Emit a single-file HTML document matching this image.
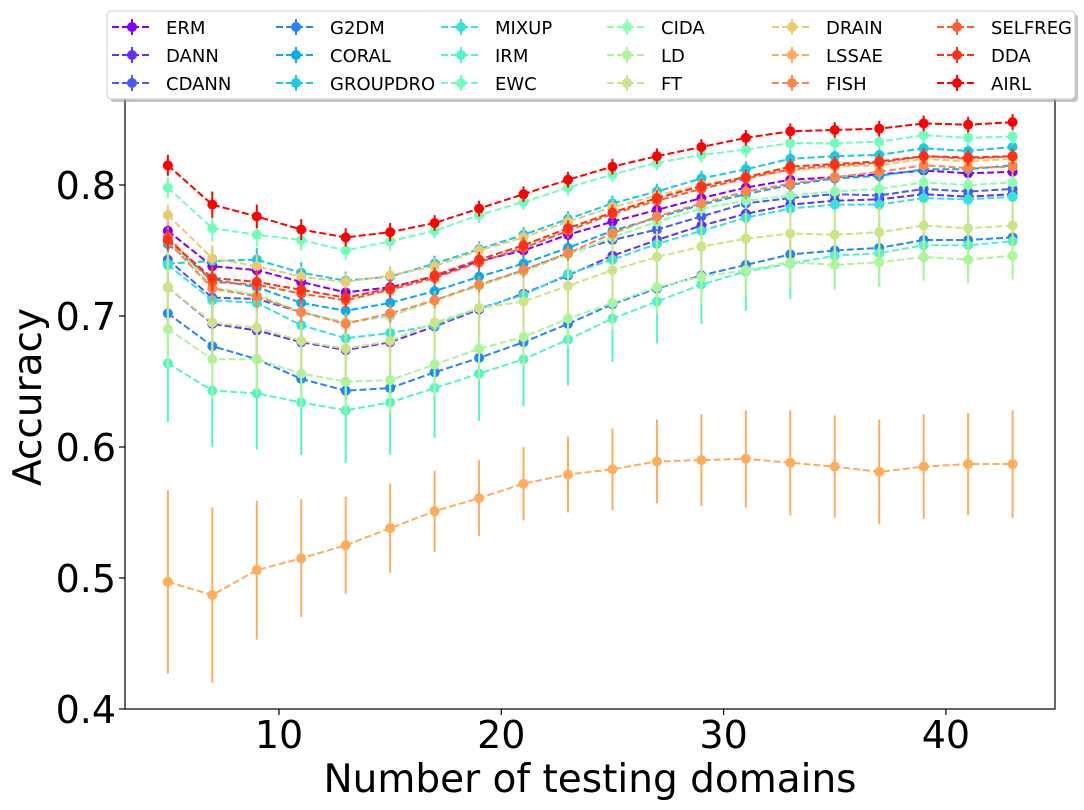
<!DOCTYPE html>
<html><head><meta charset="utf-8"><style>
body{margin:0;background:#fff;}
svg{display:block;font-family:"DejaVu Sans","Liberation Sans",sans-serif;}
</style></head><body>
<svg id="chart" width="1084" height="810" viewBox="0 0 1084 810" xmlns="http://www.w3.org/2000/svg"></svg>
<script>
const xValues=[5,7,9,11,13,15,17,19,21,23,25,27,29,31,33,35,37,39,41,43];
const seriesNames=["ERM","DANN","CDANN","G2DM","CORAL","GROUPDRO","MIXUP","IRM","EWC","CIDA","LD","FT","DRAIN","LSSAE","FISH","SELFREG","DDA","AIRL"];
const ERM=[0.765,0.738,0.735,0.726,0.718,0.722,0.730,0.742,0.750,0.762,0.772,0.781,0.790,0.798,0.804,0.806,0.808,0.811,0.809,0.810];
const DANN=[0.722,0.694,0.689,0.680,0.674,0.680,0.692,0.705,0.717,0.731,0.746,0.758,0.769,0.778,0.785,0.788,0.789,0.793,0.791,0.793];
const CDANN=[0.743,0.714,0.713,0.703,0.695,0.700,0.712,0.723,0.735,0.748,0.758,0.766,0.776,0.786,0.790,0.793,0.792,0.797,0.795,0.797];
const G2DM=[0.702,0.677,0.667,0.652,0.643,0.645,0.657,0.668,0.680,0.694,0.709,0.721,0.731,0.739,0.747,0.750,0.752,0.758,0.758,0.760];
const CORAL=[0.755,0.728,0.722,0.710,0.704,0.710,0.719,0.730,0.740,0.752,0.765,0.775,0.785,0.793,0.800,0.805,0.807,0.812,0.812,0.815];
const GROUPDRO=[0.740,0.742,0.743,0.733,0.727,0.730,0.740,0.751,0.762,0.774,0.786,0.795,0.805,0.812,0.820,0.822,0.823,0.828,0.826,0.829];
const MIXUP=[0.739,0.712,0.710,0.693,0.683,0.687,0.693,0.706,0.716,0.732,0.743,0.755,0.765,0.775,0.782,0.785,0.785,0.790,0.789,0.791];
const IRM=[0.664,0.643,0.641,0.634,0.628,0.634,0.645,0.656,0.667,0.682,0.698,0.711,0.724,0.734,0.740,0.746,0.748,0.754,0.754,0.757];
const EWC=[0.798,0.767,0.762,0.758,0.750,0.757,0.765,0.777,0.787,0.798,0.808,0.817,0.823,0.827,0.832,0.832,0.833,0.838,0.836,0.837];
const CIDA=[0.760,0.722,0.716,0.703,0.695,0.700,0.712,0.723,0.734,0.747,0.760,0.772,0.782,0.788,0.792,0.795,0.797,0.802,0.800,0.802];
const LD=[0.690,0.667,0.667,0.656,0.650,0.651,0.663,0.675,0.684,0.698,0.710,0.722,0.730,0.735,0.741,0.739,0.741,0.745,0.743,0.746];
const FT=[0.722,0.695,0.691,0.681,0.675,0.681,0.695,0.706,0.711,0.723,0.735,0.745,0.753,0.759,0.763,0.762,0.764,0.769,0.767,0.769];
const DRAIN=[0.777,0.744,0.738,0.730,0.726,0.731,0.738,0.750,0.760,0.772,0.783,0.792,0.800,0.806,0.811,0.814,0.815,0.820,0.818,0.820];
const LSSAE=[0.497,0.487,0.506,0.515,0.525,0.538,0.551,0.561,0.572,0.579,0.583,0.589,0.590,0.591,0.588,0.585,0.581,0.585,0.587,0.587];
const FISH=[0.757,0.721,0.715,0.703,0.694,0.702,0.712,0.724,0.735,0.748,0.763,0.776,0.786,0.795,0.801,0.806,0.810,0.815,0.813,0.814];
const SELFREG=[0.760,0.726,0.724,0.717,0.712,0.720,0.729,0.741,0.752,0.765,0.778,0.788,0.797,0.805,0.812,0.815,0.817,0.822,0.820,0.822];
const DDA=[0.758,0.729,0.726,0.720,0.714,0.721,0.731,0.743,0.754,0.767,0.779,0.790,0.799,0.806,0.814,0.816,0.818,0.822,0.821,0.822];
const AIRL=[0.815,0.785,0.776,0.766,0.760,0.764,0.771,0.782,0.793,0.804,0.814,0.822,0.829,0.836,0.841,0.842,0.843,0.847,0.846,0.848];
const seriesValues=[ERM,DANN,CDANN,G2DM,CORAL,GROUPDRO,MIXUP,IRM,EWC,CIDA,LD,FT,DRAIN,LSSAE,FISH,SELFREG,DDA,AIRL];
const errIRM=[0.045,0.043,0.043,0.04,0.04,0.04,0.038,0.036,0.036,0.035,0.033,0.032,0.03,0.03,0.027,0.026,0.026,0.026,0.025,0.025];
const errLSSAE=[0.07,0.067,0.053,0.045,0.037,0.034,0.031,0.029,0.028,0.029,0.031,0.032,0.035,0.037,0.04,0.039,0.04,0.04,0.039,0.041];
const errLD=[0.03,0.03,0.028,0.026,0.025,0.025,0.024,0.024,0.022,0.022,0.021,0.02,0.02,0.02,0.02,0.019,0.019,0.018,0.018,0.018];
const errSmall=[0.008,0.01,0.009,0.008,0.007,0.007,0.006,0.006,0.006,0.006,0.006,0.006,0.006,0.006,0.006,0.006,0.006,0.006,0.006,0.006];
const seriesErrors=[errSmall,errSmall,errSmall,errSmall,errSmall,errSmall,errSmall,errIRM,errSmall,errSmall,errLD,errLD,errSmall,errLSSAE,errSmall,errSmall,errSmall,errSmall];
const yTicks=[0.4,0.5,0.6,0.7,0.8];
const xTicks=[10,20,30,40];

const svg=document.getElementById('chart');
const NS='http://www.w3.org/2000/svg';
const L=125,R=1055,T=95,B=709;
const X=v=>279+(v-10)*22.23;
const Y=v=>709-(v-0.4)*1310;
function mk(tag,attrs,parent){const e=document.createElementNS(NS,tag);for(const k in attrs)e.setAttribute(k,attrs[k]);(parent||svg).appendChild(e);return e;}
function rainbow(t){const r=Math.min(1,Math.abs(2*t-0.5)),g=Math.sin(Math.PI*t),b=Math.cos(Math.PI/2*t);return `rgb(${Math.round(r*255)},${Math.round(g*255)},${Math.round(Math.max(0,b)*255)})`;}

const plot=mk('g',{});


seriesNames.forEach((name,i)=>{
  const c=rainbow(i/17);
  const g=mk('g',{},plot);
  
  
  const vals=seriesValues[i],errs=seriesErrors[i];
  vals.forEach((v,j)=>{
    const ln=mk('line',{x1:X(xValues[j]),x2:X(xValues[j]),y1:Y(v-errs[j]),y2:Y(v+errs[j]),stroke:c,'stroke-width':2},g);
    
    
  });
  const p=mk('polyline',{points:vals.map((v,j)=>X(xValues[j])+','+Y(v)).join(' '),fill:'none',stroke:c,'stroke-width':2,'stroke-dasharray':'7,3'},g);
  
  
  vals.forEach((v,j)=>{
    const m=mk('circle',{cx:X(xValues[j]),cy:Y(v),r:5,fill:c},g);
    
    
  });
});
const frame=mk('rect',{x:L,y:T,width:R-L,height:B-T,fill:'none',stroke:'#000','stroke-width':1.2});


yTicks.forEach(t=>{
  mk('line',{x1:L-6,x2:L,y1:Y(t),y2:Y(t),stroke:'#000','stroke-width':1.2});
  const tx=mk('text',{x:L-9,y:Y(t)+14,'text-anchor':'end','font-size':38});
  tx.textContent=t.toFixed(1);
  
  
});
xTicks.forEach(t=>{
  mk('line',{x1:X(t),x2:X(t),y1:B,y2:B+6,stroke:'#000','stroke-width':1.2});
  const tx=mk('text',{x:X(t),y:B+39,'text-anchor':'middle','font-size':38});
  tx.textContent=t;
  
  
});
const xt=mk('text',{x:590,y:792,'text-anchor':'middle','font-size':39});
xt.textContent='Number of testing domains';


const yt=mk('text',{x:41,y:397,'text-anchor':'middle','font-size':39,transform:'rotate(-90 41 397)'});
yt.textContent='Accuracy';



const leg=mk('g',{});


mk('rect',{x:110,y:14,width:968,height:88,rx:4,fill:'#999',opacity:0.6},leg);
mk('rect',{x:107,y:11,width:968,height:88,rx:4,fill:'#fff',stroke:'#ccc','stroke-width':1},leg);
const colX=[112,276,441,607,772,937];
const rowY=[27,55,83];
seriesNames.forEach((name,i)=>{
  const c=rainbow(i/17);
  const cx=colX[Math.floor(i/3)],cy=rowY[i%3];
  const e=mk('g',{},leg);
  
  
  mk('line',{x1:cx,x2:cx+40,y1:cy,y2:cy,stroke:c,'stroke-width':2,'stroke-dasharray':'7,3'},e);
  mk('line',{x1:cx+20,x2:cx+20,y1:cy-8,y2:cy+8,stroke:c,'stroke-width':2},e);
  mk('circle',{cx:cx+20,cy:cy,r:5,fill:c},e);
  const t=mk('text',{x:cx+54,y:cy+7,'font-size':18},e);
  t.textContent=name;
});
</script>
</body></html>
